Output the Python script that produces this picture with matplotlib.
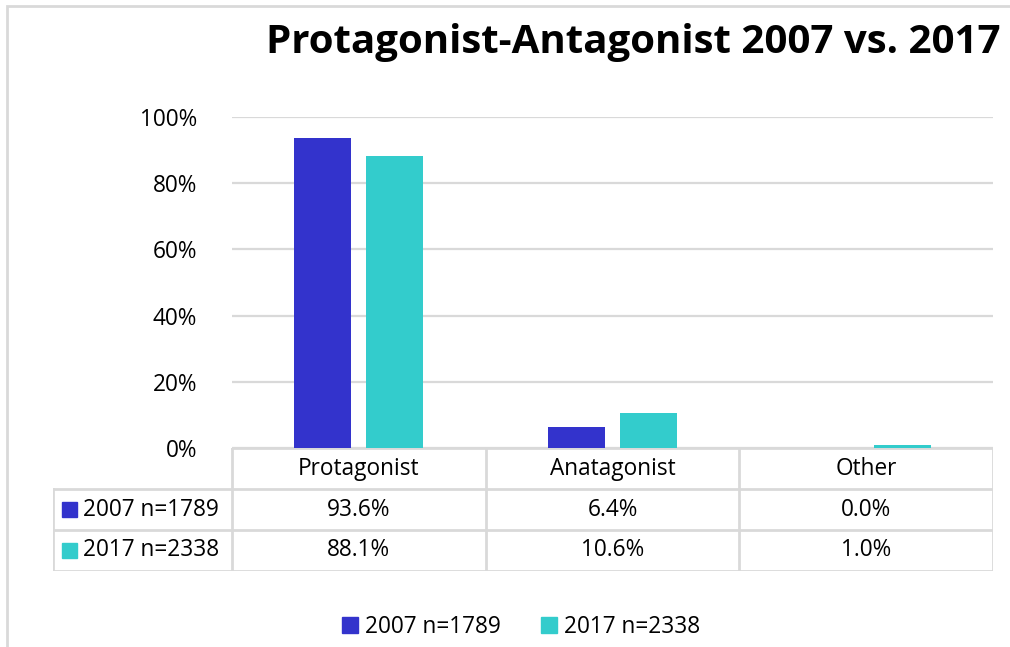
import numpy as np
import matplotlib.pyplot as plt
from matplotlib.patches import Patch, Rectangle
from matplotlib.lines import Line2D

plt.rcParams['font.family'] = ['Open Sans', 'DejaVu Sans']

categories = ['Protagonist', 'Anatagonist', 'Other']
series = ['2007 n=1789', '2017 n=2338']
vals_2007 = [93.6, 6.4, 0.0]
vals_2017 = [88.1, 10.6, 1.0]
colors = ['#3333CC', '#33CCCC']
grid_col = '#D9D9D9'
fs = 16.3

W, H = 1010, 647
fig = plt.figure(figsize=(W / 100, H / 100), dpi=100)

def box(x0, y0, x1, y1):
    # pixel box -> figure fraction rect
    return [x0 / W, 1 - y1 / H, (x1 - x0) / W, (y1 - y0) / H]

# outer chart frame
fig.patches.append(Rectangle((7 / W, -0.05), 1.2, 1 - 5.5 / H + 0.05,
                             transform=fig.transFigure, fill=False,
                             edgecolor=grid_col, lw=2))

ax = fig.add_axes(box(232, 117, 993, 448))
x = np.arange(len(categories))
off, bw = 0.142, 0.225
ax.bar(x - off, np.array(vals_2007) / 100, bw, color=colors[0], zorder=3)
ax.bar(x + off, np.array(vals_2017) / 100, bw, color=colors[1], zorder=3)
ax.set_xlim(-0.5, 2.5)
ax.set_ylim(0, 1)
ax.set_yticks(np.arange(0, 1.01, 0.2))
ax.set_yticklabels(['%d%%' % round(v * 100) for v in np.arange(0, 1.01, 0.2)], fontsize=fs)
ax.set_xticks([])
ax.tick_params(axis='y', length=0, pad=25)
ax.grid(axis='y', color=grid_col, lw=1.6, zorder=0)
for s in ax.spines.values():
    s.set_visible(False)

# data table
left = -0.5 - (232 - 53) / ((993 - 232) / 3)
tax = fig.add_axes(box(53, 448, 993, 571))
tax.set_xlim(left, 2.5)
tax.set_ylim(3, 0)
tax.axis('off')
lk = dict(color=grid_col, lw=2, solid_capstyle='projecting')
tax.add_line(Line2D([-0.5, 2.5], [0, 0], **lk))
for r in [1, 2, 3]:
    tax.add_line(Line2D([left, 2.5], [r, r], **lk))
for c in [-0.5, 0.5, 1.5, 2.5]:
    tax.add_line(Line2D([c, c], [0, 3], **lk))
tax.add_line(Line2D([left, left], [1, 3], **lk))
for i, cat in enumerate(categories):
    tax.text(i, 0.5, cat, ha='center', va='center', fontsize=fs)
for r, (name, vals, col) in enumerate(zip(series, [vals_2007, vals_2017], colors), start=1):
    tax.add_patch(Rectangle((left + 0.035, r + 0.32), 0.058, 0.36, color=col))
    tax.text(left + 0.118, r + 0.5, name, ha='left', va='center', fontsize=fs)
    for i, v in enumerate(vals):
        tax.text(i, r + 0.5, '%.1f%%' % v, ha='center', va='center', fontsize=fs)

fig.text(1000 / W, 1 - 42 / H, 'Protagonist-Antagonist 2007 vs. 2017', ha='right',
         va='center', fontsize=29, fontweight='bold')

handles = [Patch(color=c, label=s) for c, s in zip(colors, series)]
fig.legend(handles=handles, loc='center', bbox_to_anchor=(521 / W, 1 - 627 / H), ncol=2,
           frameon=False, fontsize=fs, handlelength=0.7, handleheight=0.7,
           handletextpad=0.3, columnspacing=1.8)

fig.savefig('out.png', dpi=100)
